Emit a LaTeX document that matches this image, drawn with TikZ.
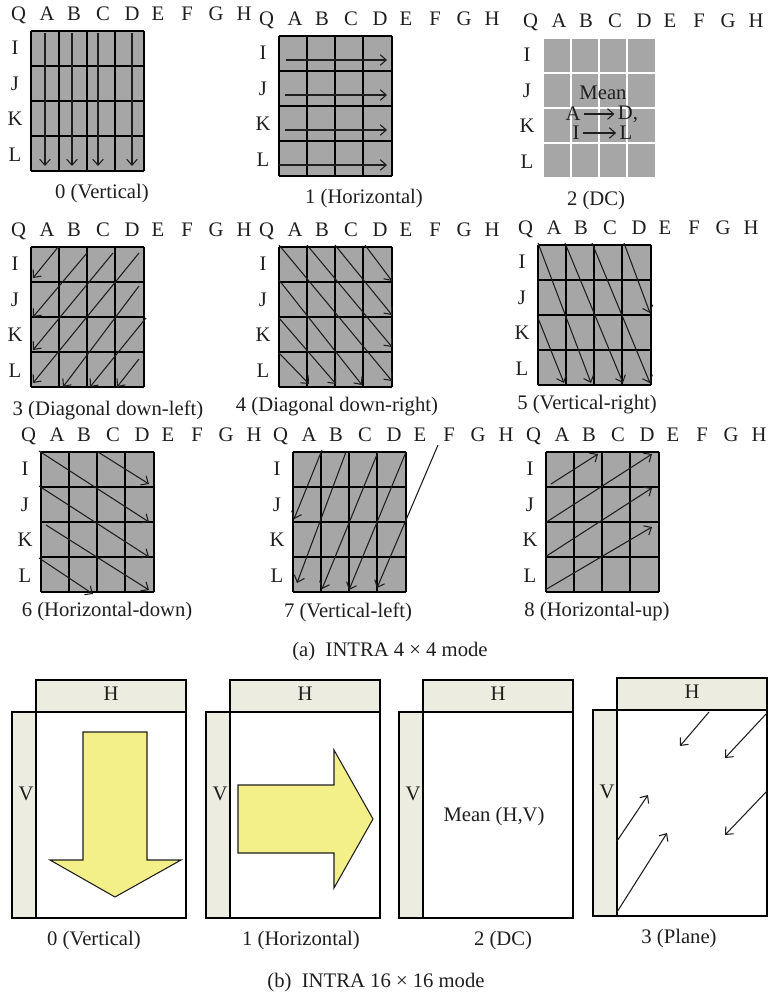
\documentclass[tikz,border=0pt]{standalone}
\usepackage{fontspec}
\setmainfont{Liberation Serif}
\usepackage{xcolor}
\usetikzlibrary{arrows.meta}
\definecolor{cellgray}{HTML}{A6A6A6}
\definecolor{barbeige}{HTML}{ECECE0}
\definecolor{arrowyellow}{HTML}{F3F08A}
\definecolor{inkdark}{HTML}{1E1E1E}

% one 4x4 block: colour of its lines, name, left and top of the cells
\newcommand{\predblock}[4][black]{
  \fill[cellgray] (#3,#4) rectangle ++(113,140);
  \foreach \cx in {0,28,56,84,113}
    \draw[cellline, draw=#1] (#3+\cx,#4) -- ++(0,140);
  \foreach \cy in {0,35,70,105,140}
    \draw[cellline, draw=#1] (#3,#4+\cy) -- ++(113,0);
  \foreach \lbl/\off in {Q/-12.5,A/16,B/43,C/72,D/101,E/127,F/156,G/185,H/213}
    \node[letter] (#2-\lbl) at (#3+\off,#4-17.5) {\lbl};
  \foreach \lbl/\off in {I/17,J/53,K/88,L/124}
    \node[letter] (#2-\lbl) at (#3-16,#4+\off) {\lbl};
}
% one 16x16 panel: name, left of the V bar, top of the H bar
\newcommand{\modepanel}[3]{
  \draw[panelline, fill=barbeige] (#2+24,#3) rectangle ++(150,32);
  \draw[panelline, fill=barbeige] (#2,#3+32) rectangle ++(24,206);
  \draw[panelline] (#2+24,#3+32) rectangle ++(150,206);
  \node[letter] (#1-H) at (#2+99,#3+14) {H};
  \node[letter] (#1-V) at (#2+14,#3+114) {V};
}

\begin{document}
\begin{tikzpicture}[
  x=0.75pt, y=-0.75pt,
  letter/.style={inner sep=0pt, text height=10pt, text depth=0pt, text=inkdark,
                 font=\fontsize{15.5}{17}\selectfont},
  caption/.style={inner sep=0pt, text=inkdark, font=\fontsize{15.5}{17}\selectfont},
  cellline/.style={line width=1pt, color=black},
  panelline/.style={line width=1.4pt, color=black},
  arrow/.style={-{Straight Barb[length=4.5pt,width=8pt]}, line width=0.8pt, color=inkdark},
  bigarrow/.style={fill=arrowyellow, draw=inkdark, line width=0.8pt}
]
\useasboundingbox (0,0) rectangle (770,998);

% INTRA 4x4 blocks
\predblock{vert}{31}{31}
\predblock{horz}{279}{36}
\predblock[white]{dc}{543}{38}
\predblock{ddl}{31}{247}
\predblock{ddr}{279}{247}
\predblock{vr}{538}{245}
\predblock{hd}{41}{452}
\predblock{vl}{293}{452}
\predblock{hu}{546}{452}

% 0
\foreach \ax in {45,72,98,132}
  \draw[arrow] (\ax,33) -- (\ax,166);
% 1
\foreach \ax/\ay in {286/60,285/95,285/130,279/165}
  \draw[arrow] (\ax,\ay) -- (387,\ay);
% 2
\node[caption] (dc-mean) at (603,93) {Mean};
\node[caption, inner sep=2.5pt] (dc-a) at (573,114) {A};
\node[caption, inner sep=2.5pt] (dc-d) at (628,114) {D,};
\node[caption, inner sep=2.5pt] (dc-i) at (576,133) {I};
\node[caption, inner sep=2.5pt] (dc-l) at (626,133) {L};
\draw[arrow] (dc-a) -- (dc-d);
\draw[arrow] (dc-i) -- (dc-l);
% 3
\foreach \ax/\ay/\bx/\by in {59/246/33/278,87/253/33/317,113/253/33/350,139/253/33/383,
                             139/286/63/387,146/318/90/387,139/359/117/387}
  \draw[arrow] (\ax,\ay) -- (\bx,\by);
% 4
\foreach \ax/\ay/\bx/\by in {365/245/392/281,335/245/392/315,307/245/392/347,279/245/392/381,
                             279/280/362/385,279/318/336/384,279/353/309/384}
  \draw[arrow] (\ax,\ay) -- (\bx,\by);
% 5
\foreach \ax/\ay/\bx/\by in {624/243/650/313,592/243/650/383,565/243/623/383,538/243/591/383,
                             538/318/564/383}
  \draw[arrow] (\ax,\ay) -- (\bx,\by);
% 6
\foreach \ax/\ay/\bx/\by in {98/452/149/484,39/451/149/522,39/486/149/557,46/525/149/590,
                             39/558/93/594}
  \draw[arrow] (\ax,\ay) -- (\bx,\by);
% 7
\foreach \ax/\ay/\bx/\by in {322/450/294/519,346/452/297/583,378/452/322/589,406/452/349/590,
                             438/445/377/588}
  \draw[arrow] (\ax,\ay) -- (\bx,\by);
% 8
\foreach \ax/\ay/\bx/\by in {551/484/598/454,545/523/652/454,545/557/652/488,545/590/652/527}
  \draw[arrow] (\ax,\ay) -- (\bx,\by);

\node[caption] (cap0) at (102,194) {0 (Vertical)};
\node[caption] (cap1) at (364,199) {1 (Horizontal)};
\node[caption] (cap2) at (596,201) {2 (DC)};
\node[caption] (cap3) at (108,410) {3 (Diagonal down-left)};
\node[caption] (cap4) at (337,407) {4 (Diagonal down-right)};
\node[caption] (cap5) at (587,405) {5 (Vertical-right)};
\node[caption] (cap6) at (107,612) {6 (Horizontal-down)};
\node[caption] (cap7) at (348,612) {7 (Vertical-left)};
\node[caption] (cap8) at (597,612) {8 (Horizontal-up)};
\node[caption] (capa) at (390,652) {(a)\enspace INTRA 4 × 4 mode};

% INTRA 16x16 panels
\modepanel{pvert}{12}{680}
\modepanel{phorz}{206}{680}
\modepanel{pdc}{399}{680}
\modepanel{pplane}{593}{678}

\draw[bigarrow] (83,732) -- (147,732) -- (147,860) -- (181,860) -- (115,897) -- (50,860) -- (83,860) -- cycle;
\draw[bigarrow] (238,785) -- (334,785) -- (334,750) -- (373,819) -- (334,888) -- (334,853) -- (238,853) -- cycle;
\node[caption] (pdc-mean) at (494,817) {Mean (H,V)};
\foreach \ax/\ay/\bx/\by in {709/712/680/746,767/713/725/758,767/791/725/835,
                             617/841/648/795,617/912/667/833}
  \draw[arrow] (\ax,\ay) -- (\bx,\by);

\node[caption] (pcap0) at (94,941) {0 (Vertical)};
\node[caption] (pcap1) at (301,941) {1 (Horizontal)};
\node[caption] (pcap2) at (503,941) {2 (DC)};
\node[caption] (pcap3) at (679,939) {3 (Plane)};
\node[caption] (capb) at (376,983) {(b)\enspace INTRA 16 × 16 mode};

\end{tikzpicture}
\end{document}
